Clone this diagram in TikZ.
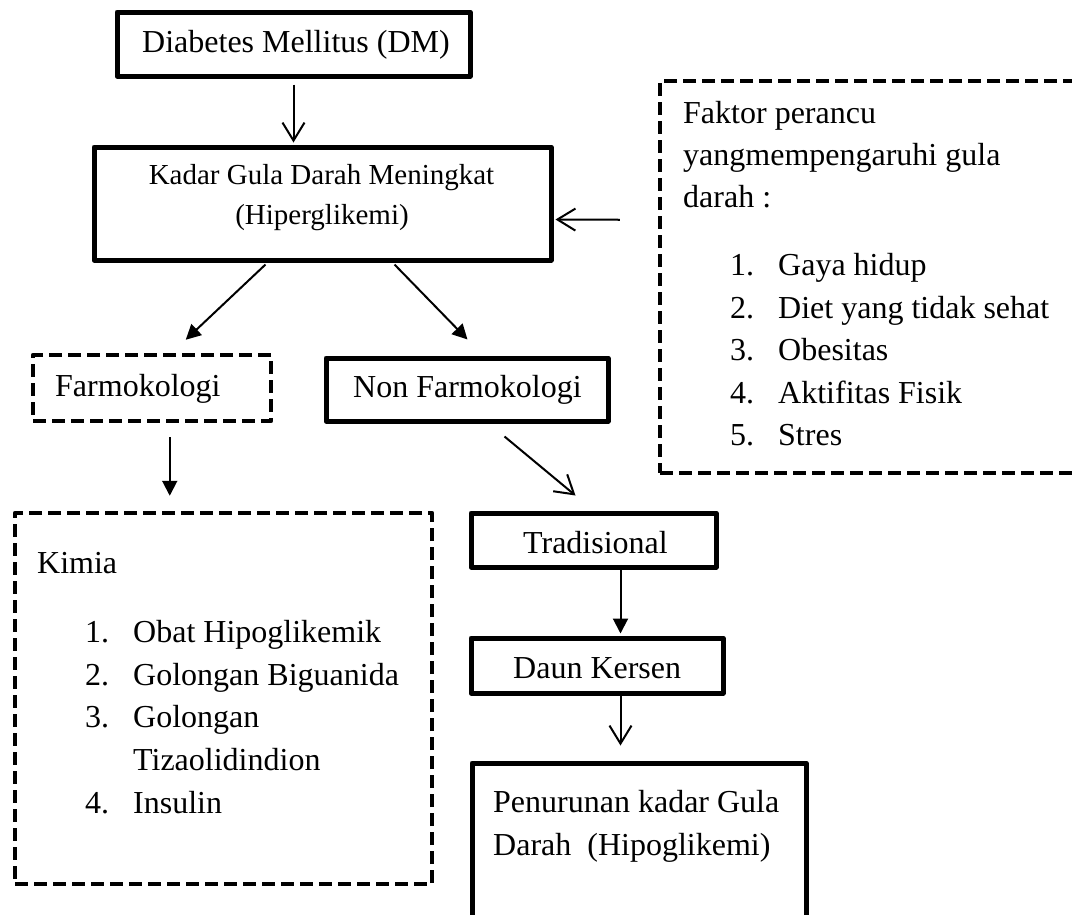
\documentclass[tikz,border=0pt]{standalone}
\usepackage{fontspec}
\setmainfont{Liberation Serif}
\usetikzlibrary{arrows.meta,calc}
\newcommand{\itm}[1]{\makebox[48pt][l]{#1}}
\begin{document}
\begin{tikzpicture}[x=1pt,y=-1pt,
  box/.style={draw, line width=5pt, inner sep=0pt, line join=round},
  dbox/.style={box, line width=4.5pt, dash pattern=on 13pt off 6pt},
  txt/.style={inner sep=0pt, anchor=base west, font=\fontsize{32}{40}\selectfont},
  stxt/.style={inner sep=0pt, anchor=base, font=\fontsize{29}{36}\selectfont},
  openarrow/.style={line width=2pt, -{Straight Barb[length=18pt,width=22pt]}},
  fillarrow/.style={line width=2pt, -{Triangle[length=15pt,width=15pt]}}]
\useasboundingbox (0,0) rectangle (1072,914);
\clip (0,0) rectangle (1072,914);
\fill[white] (0,0) rectangle (1072,914);

% boxes
\node[box, minimum width=353pt, minimum height=64pt] (dm) at (293.5,44) {};
\node[box, minimum width=457pt, minimum height=113pt] (kgd) at (322.5,203.5) {};
\node[dbox, minimum width=238pt, minimum height=66pt] (farm) at (152,388) {};
\node[box, minimum width=282pt, minimum height=63pt] (nonf) at (467,389.5) {};
\node[dbox, minimum width=430pt, minimum height=392pt] (faktor) at (875,277) {};
\node[dbox, minimum width=417pt, minimum height=371pt] (kimia) at (223.5,698.5) {};
\node[box, minimum width=245pt, minimum height=54pt] (trad) at (593.5,540) {};
\node[box, minimum width=252pt, minimum height=55pt] (daun) at (597,665.5) {};
\node[box, minimum width=334pt, minimum height=177pt] (pen) at (639,851.5) {};

% texts
\node[txt] (tdm) at (142,52) {Diabetes Mellitus (DM)};
\node[stxt] (tkgd1) at (321.5,184) {Kadar Gula Darah Meningkat};
\node[stxt] (tkgd2) at (322,224) {(Hiperglikemi)};
\node[txt] (tfarm) at (55,396) {Farmokologi};
\node[txt] (tnonf) at (353,397) {Non Farmokologi};
\node[txt] (tf1) at (683,123) {Faktor perancu};
\node[txt] (tf2) at (683,165) {yangmempengaruhi gula};
\node[txt] (tf3) at (683,207) {darah :};
\node[txt] (tl1) at (730,275) {\itm{1.}Gaya hidup};
\node[txt] (tl2) at (730,318) {\itm{2.}Diet yang tidak sehat};
\node[txt] (tl3) at (730,360) {\itm{3.}Obesitas};
\node[txt] (tl4) at (730,403) {\itm{4.}Aktifitas Fisik};
\node[txt] (tl5) at (730,445) {\itm{5.}Stres};
\node[txt] (tk0) at (37,573) {Kimia};
\node[txt] (tk1) at (85,642) {\itm{1.}Obat Hipoglikemik};
\node[txt] (tk2) at (85,685) {\itm{2.}Golongan Biguanida};
\node[txt] (tk3) at (85,727) {\itm{3.}Golongan};
\node[txt] (tk3b) at (133,770) {Tizaolidindion};
\node[txt] (tk4) at (85,813) {\itm{4.}Insulin};
\node[txt] (ttrad) at (523,553) {Tradisional};
\node[txt] (tdaun) at (513,678) {Daun Kersen};
\node[txt] (tpen1) at (493,812) {Penurunan kadar Gula};
\node[txt] (tpen2) at (493,855) {Darah\ \ (Hipoglikemi)};

% connectors
\draw[openarrow] ($(dm.south)+(0,6)$) -- ($(dm.south |- kgd.north)+(0,-2)$);
\draw[fillarrow] ($(kgd.south west)+(174,2)$) -- ($(farm.north west)+(155,-13)$);
\draw[fillarrow] ($(kgd.south west)+(303,2)$) -- ($(nonf.north west)+(144,-16)$);
\draw[openarrow] ($(faktor.north west)+(-38,141)$) -- ($(kgd.north east)+(2,75)$);
\draw[fillarrow] ($(farm.south west)+(139,14)$) -- ($(kimia.north west)+(157,-15)$);
\draw[openarrow] ($(nonf.south west)+(181,13)$) -- ($(trad.north west)+(107,-15)$);
\draw[fillarrow] ($(trad.south west)+(152,0)$) -- ($(daun.north west)+(152,-2)$);
\draw[openarrow] ($(daun.south west)+(152,0)$) -- ($(pen.north west)+(151,-15)$);
\end{tikzpicture}
\end{document}
